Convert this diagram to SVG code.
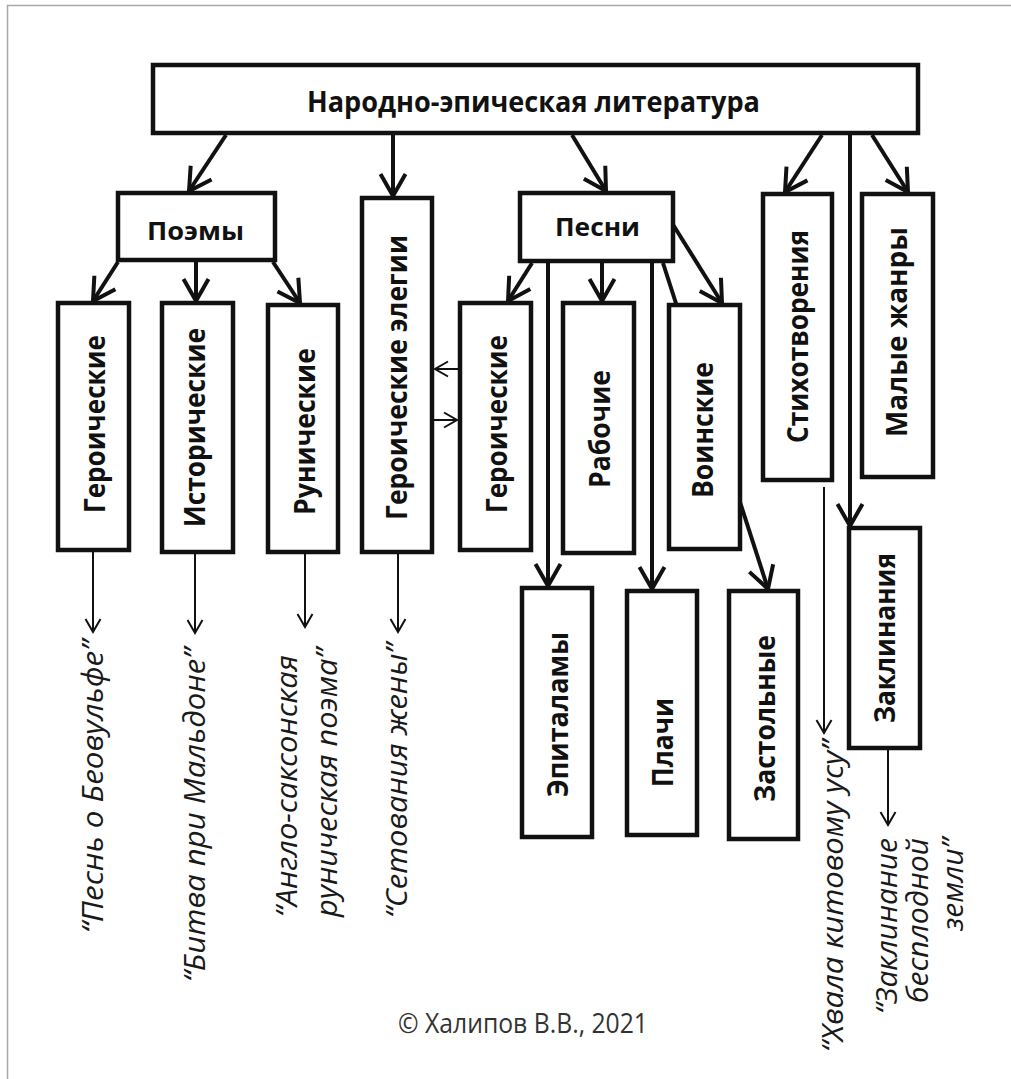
<svg xmlns="http://www.w3.org/2000/svg" width="1011" height="1079" viewBox="0 0 1011 1079">
  <defs>
    <style>
      .box { fill: #fff; stroke: #111; stroke-width: 4.5; }
      .lbl { font-family: "Open Sans", "Noto Sans", "DejaVu Sans", sans-serif; font-weight: 700; font-size: 28px; fill: #111; text-anchor: middle; }
      .lbl-h { font-size: 25px; }
      .work { font-family: "Open Sans", "Noto Sans", "DejaVu Sans", sans-serif; font-style: italic; font-size: 30px; fill: #1a1a1a; }
      .end { text-anchor: end; }
      .thick { fill: none; stroke: #111; stroke-width: 4; marker-end: url(#head); }
      .thin { fill: none; stroke: #111; stroke-width: 2; marker-end: url(#headThin); }
      .copy { font-family: "Open Sans", "Noto Sans", "DejaVu Sans", sans-serif; font-size: 28px; fill: #333; text-anchor: middle; }
    </style>
    <marker id="head" markerUnits="userSpaceOnUse" viewBox="-30 -16 34 32" refX="0" refY="0" markerWidth="34" markerHeight="32" orient="auto" overflow="visible">
      <path d="M-22,-12.5 L0,0 L-22,12.5" fill="none" stroke="#111" stroke-width="4"/>
    </marker>
    <marker id="headThin" markerUnits="userSpaceOnUse" viewBox="-20 -12 24 24" refX="0" refY="0" markerWidth="24" markerHeight="24" orient="auto" overflow="visible">
      <path d="M-13,-7.5 L0,0 L-13,7.5" fill="none" stroke="#111" stroke-width="2"/>
    </marker>
  </defs>

  <rect width="1011" height="1079" fill="#fff"/>
  <!-- page frame -->
  <path d="M7.5,1079 V5.5 H1011" fill="none" stroke="#a8a8a8" stroke-width="1.5"/>

  <!-- connectors -->
  <g id="connectors">
    <path class="thick" d="M226,135 L189,191"/>
    <path class="thick" d="M393,135 L393,196"/>
    <path class="thick" d="M572,135 L606,191"/>
    <path class="thick" d="M822,135 L785,192"/>
    <path class="thick" d="M872,135 L908,192"/>
    <path class="thick" d="M850,135 L850,526"/>

    <path class="thick" d="M118,262 L93,301"/>
    <path class="thick" d="M196,262 L196,301"/>
    <path class="thick" d="M273,262 L300,303"/>

    <path class="thick" d="M532,263 L508,301"/>
    <path class="thick" d="M602,263 L602,301"/>
    <path class="thick" d="M672,223 L722,303"/>
    <path class="thick" d="M548,263 L548,586"/>
    <path class="thick" d="M652,263 L652,589"/>
    <path class="thick" d="M663,263 L768,589"/>

    <path class="thin" d="M93,552 L93,632"/>
    <path class="thin" d="M195,554 L195,633"/>
    <path class="thin" d="M305,554 L305,627"/>
    <path class="thin" d="M398,554 L398,632"/>
    <path class="thin" d="M824,487 L824,733"/>
    <path class="thin" d="M888,750 L888,825"/>
    <path class="thin" d="M458,369 L435,369"/>
    <path class="thin" d="M434,420 L457,420"/>
  </g>

  <!-- root -->
  <g id="n-root">
    <rect class="box" x="153" y="65" width="765" height="68"/>
    <text class="lbl" x="533.5" y="112" textLength="453" lengthAdjust="spacingAndGlyphs">Народно-эпическая литература</text>
  </g>

  <!-- first level -->
  <g id="n-poems">
    <rect class="box" x="118" y="193" width="157" height="67"/>
    <text class="lbl lbl-h" x="195.5" y="240" textLength="97" lengthAdjust="spacingAndGlyphs">Поэмы</text>
  </g>
  <g id="n-elegies">
    <rect class="box" x="362" y="198" width="70" height="354"/>
    <text class="lbl" transform="translate(407,377.5) rotate(-90)" textLength="285" lengthAdjust="spacingAndGlyphs">Героические элегии</text>
  </g>
  <g id="n-songs">
    <rect class="box" x="520" y="193" width="153" height="68"/>
    <text class="lbl lbl-h" x="597.5" y="236" textLength="85" lengthAdjust="spacingAndGlyphs">Песни</text>
  </g>
  <g id="n-verses">
    <rect class="box" x="763" y="194" width="69" height="286"/>
    <text class="lbl" transform="translate(808,336.5) rotate(-90)" textLength="213" lengthAdjust="spacingAndGlyphs">Стихотворения</text>
  </g>
  <g id="n-small">
    <rect class="box" x="862" y="194" width="71" height="283"/>
    <text class="lbl" transform="translate(907,332) rotate(-90)" textLength="210" lengthAdjust="spacingAndGlyphs">Малые жанры</text>
  </g>
  <g id="n-charms">
    <rect class="box" x="849" y="528" width="71" height="220"/>
    <text class="lbl" transform="translate(895,638) rotate(-90)" textLength="170" lengthAdjust="spacingAndGlyphs">Заклинания</text>
  </g>

  <!-- poem kinds -->
  <g id="n-poem-heroic">
    <rect class="box" x="58" y="303" width="71" height="247"/>
    <text class="lbl" transform="translate(105,424) rotate(-90)" textLength="178" lengthAdjust="spacingAndGlyphs">Героические</text>
  </g>
  <g id="n-poem-historic">
    <rect class="box" x="162" y="303" width="71" height="249"/>
    <text class="lbl" transform="translate(205,427.5) rotate(-90)" textLength="199" lengthAdjust="spacingAndGlyphs">Исторические</text>
  </g>
  <g id="n-poem-runic">
    <rect class="box" x="268" y="305" width="70" height="247"/>
    <text class="lbl" transform="translate(315,431.5) rotate(-90)" textLength="167" lengthAdjust="spacingAndGlyphs">Рунические</text>
  </g>

  <!-- song kinds -->
  <g id="n-song-heroic">
    <rect class="box" x="460" y="303" width="71" height="247"/>
    <text class="lbl" transform="translate(507,424) rotate(-90)" textLength="178" lengthAdjust="spacingAndGlyphs">Героические</text>
  </g>
  <g id="n-song-work">
    <rect class="box" x="563" y="303" width="71" height="250"/>
    <text class="lbl" transform="translate(610,429) rotate(-90)" textLength="118" lengthAdjust="spacingAndGlyphs">Рабочие</text>
  </g>
  <g id="n-song-war">
    <rect class="box" x="669" y="305" width="71" height="244"/>
    <text class="lbl" transform="translate(713,430) rotate(-90)" textLength="136" lengthAdjust="spacingAndGlyphs">Воинские</text>
  </g>
  <g id="n-song-wedding">
    <rect class="box" x="522" y="588" width="70" height="249"/>
    <text class="lbl" transform="translate(568,714.5) rotate(-90)" textLength="165" lengthAdjust="spacingAndGlyphs">Эпиталамы</text>
  </g>
  <g id="n-song-lament">
    <rect class="box" x="627" y="591" width="70" height="244"/>
    <text class="lbl" transform="translate(673,742.5) rotate(-90)" textLength="89" lengthAdjust="spacingAndGlyphs">Плачи</text>
  </g>
  <g id="n-song-feast">
    <rect class="box" x="729" y="591" width="69" height="248"/>
    <text class="lbl" transform="translate(775,718.5) rotate(-90)" textLength="167" lengthAdjust="spacingAndGlyphs">Застольные</text>
  </g>

  <!-- example works -->
  <g id="n-work-beowulf">
    <text class="work" transform="translate(103,933) rotate(-90)" textLength="293" lengthAdjust="spacingAndGlyphs">“Песнь о Беовульфе”</text>
  </g>
  <g id="n-work-maldon">
    <text class="work" transform="translate(205,982) rotate(-90)" textLength="334" lengthAdjust="spacingAndGlyphs">“Битва при Мальдоне”</text>
  </g>
  <g id="n-work-rune">
    <text class="work" transform="translate(297,917) rotate(-90)" textLength="262" lengthAdjust="spacingAndGlyphs">“Англо-саксонская</text>
    <text class="work" transform="translate(337,917) rotate(-90)" textLength="269" lengthAdjust="spacingAndGlyphs">руническая поэма”</text>
  </g>
  <g id="n-work-wife">
    <text class="work" transform="translate(407,918) rotate(-90)" textLength="275" lengthAdjust="spacingAndGlyphs">“Сетования жены”</text>
  </g>
  <g id="n-work-whalebone">
    <text class="work" transform="translate(843,1052) rotate(-90)" textLength="312" lengthAdjust="spacingAndGlyphs">“Хвала китовому усу”</text>
  </g>
  <g id="n-work-charm">
    <text class="work end" transform="translate(897,838) rotate(-90)" textLength="176" lengthAdjust="spacingAndGlyphs">“Заклинание</text>
    <text class="work end" transform="translate(928,838) rotate(-90)" textLength="165" lengthAdjust="spacingAndGlyphs">бесплодной</text>
    <text class="work end" transform="translate(963,838) rotate(-90)" textLength="93" lengthAdjust="spacingAndGlyphs">земли”</text>
  </g>

  <text class="copy" x="523" y="1033" textLength="250" lengthAdjust="spacingAndGlyphs">© Халипов В.В., 2021</text>
</svg>
